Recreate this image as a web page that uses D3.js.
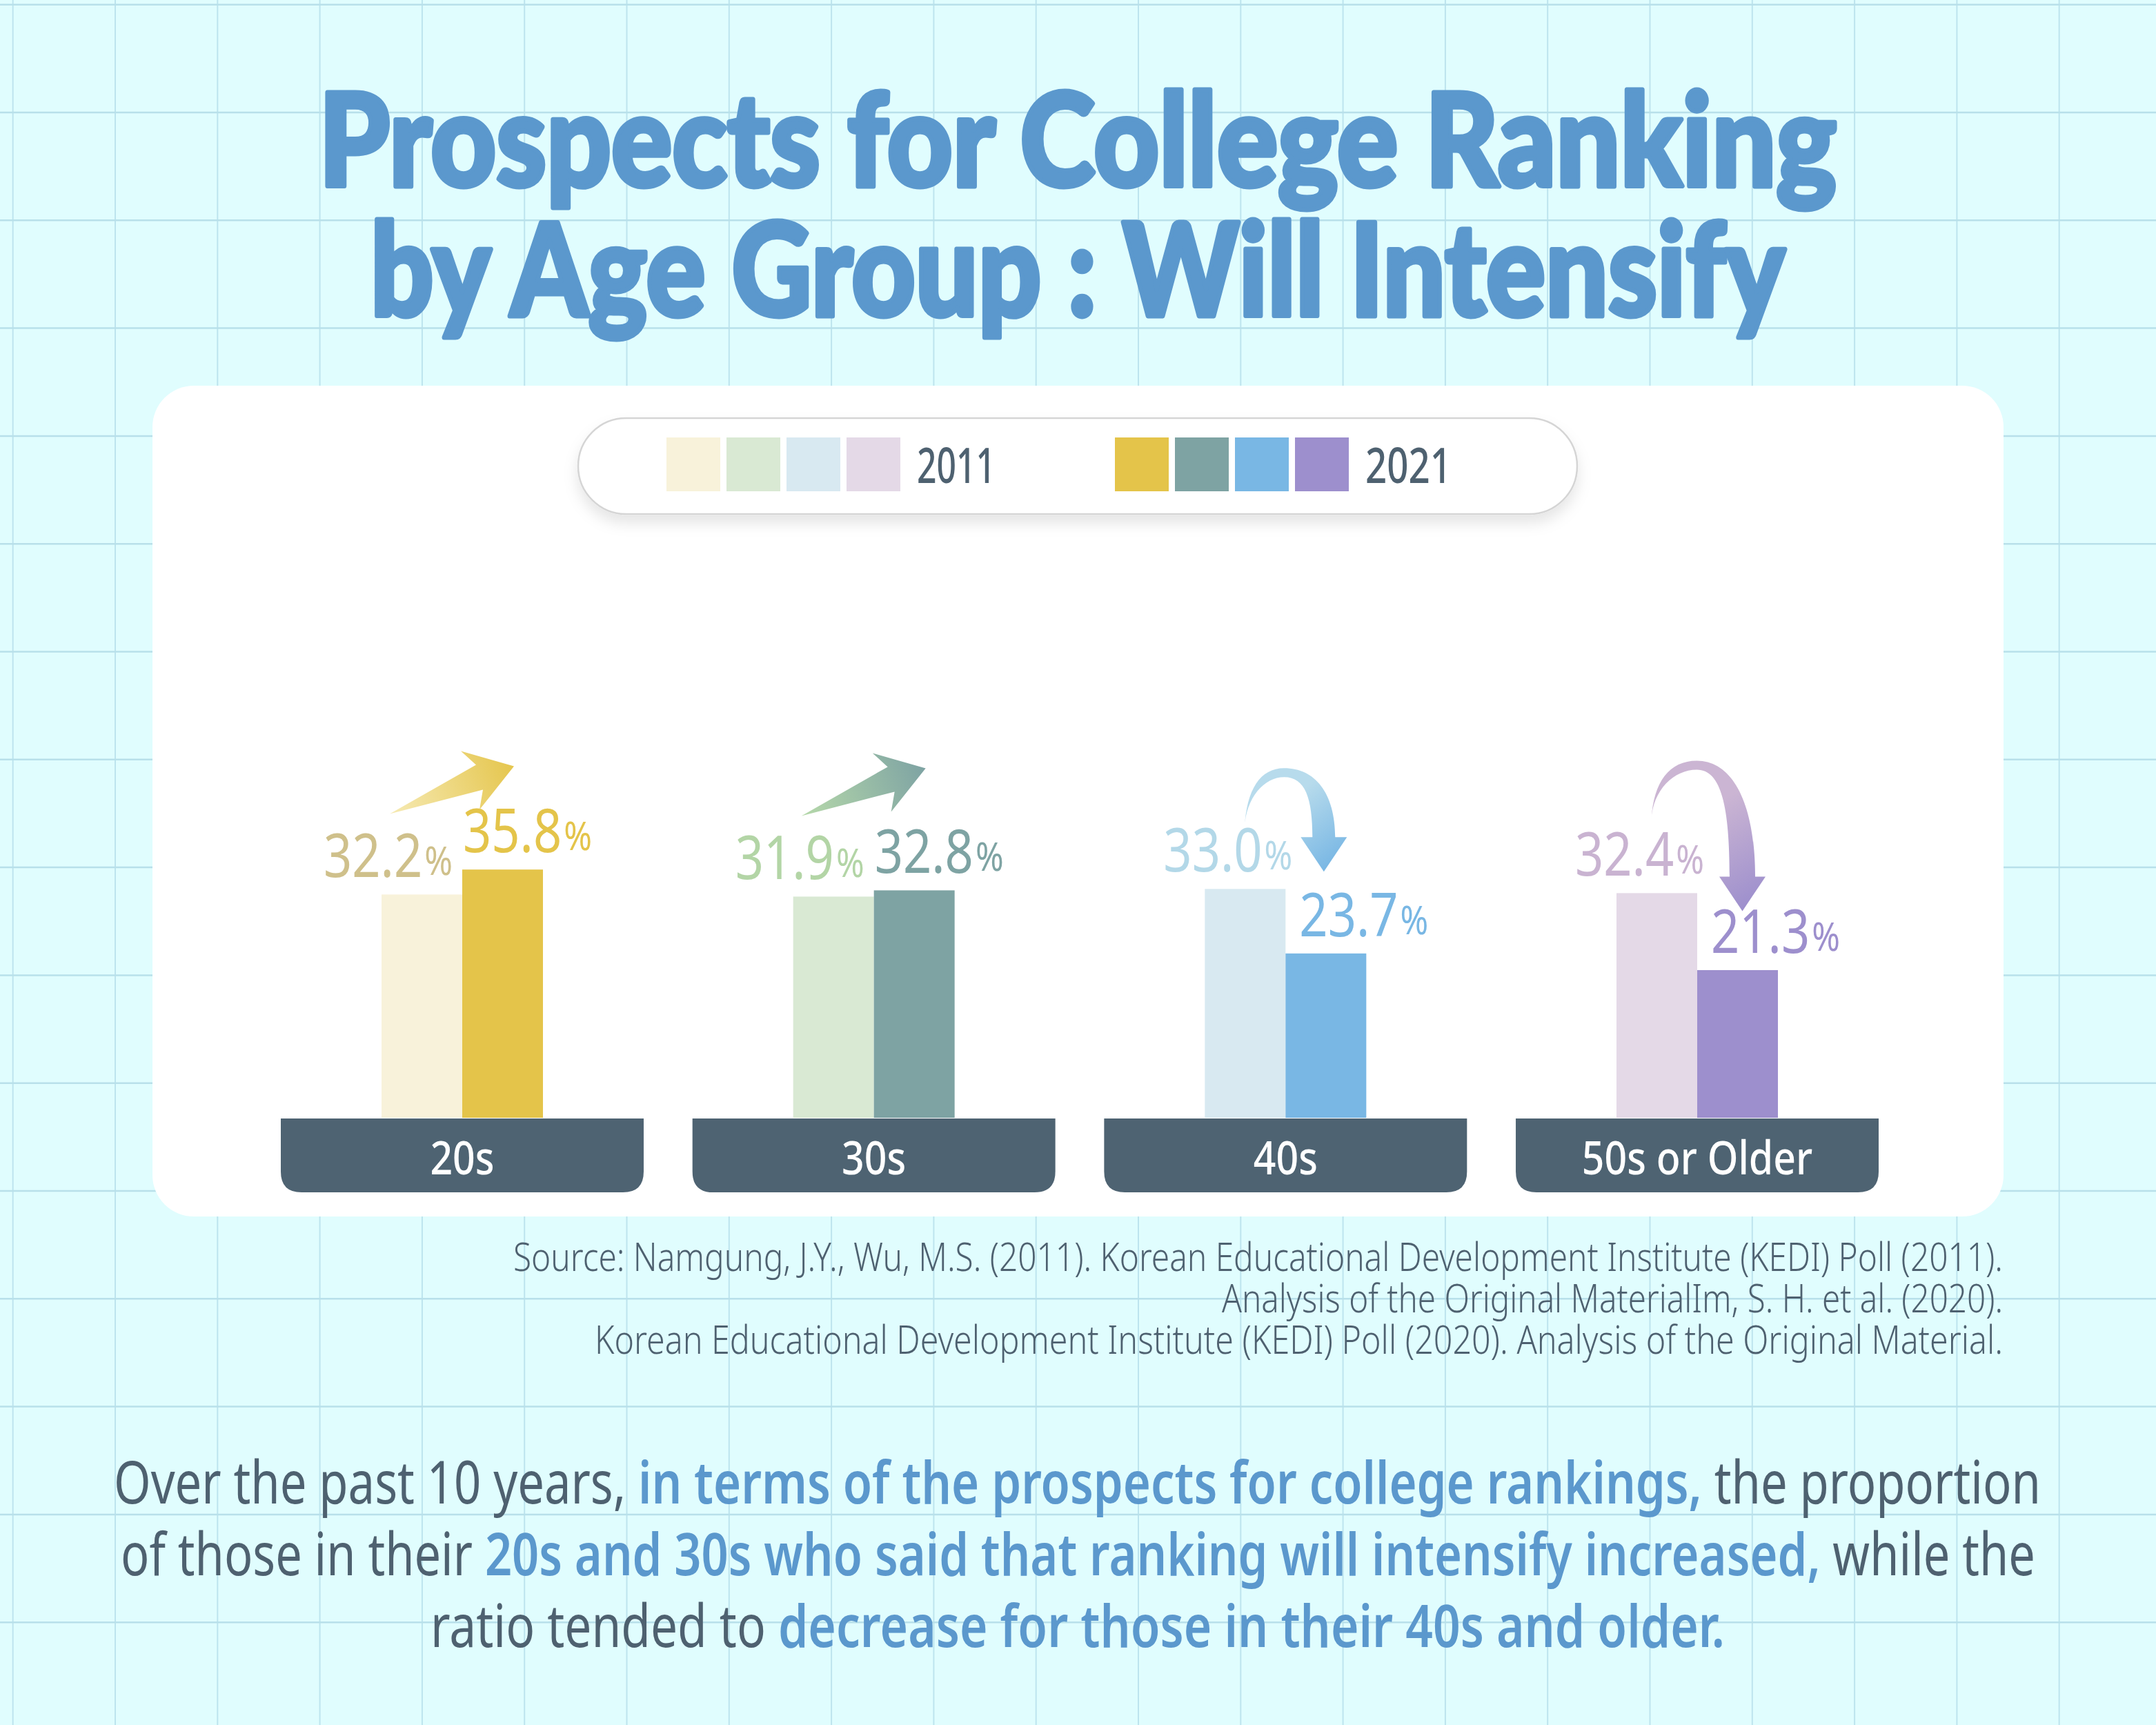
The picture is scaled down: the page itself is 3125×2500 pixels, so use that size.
<!DOCTYPE html>
<html><head><meta charset="utf-8">
<script src="https://cdn.jsdelivr.net/npm/d3@7"></script>
<style>html,body{margin:0;padding:0;background:#e0fdfe;} svg{display:block}</style>
</head><body>
<svg id="c" width="3125" height="2500"></svg>
<script>
// ---------------- DATA ----------------
const categories = ["20s", "30s", "40s", "50s or Older"];
const years = ["2011", "2021"];
const values2011 = [32.2, 31.9, 33.0, 32.4];
const values2021 = [35.8, 32.8, 23.7, 21.3];
const colors2011 = ["#f8f2da", "#d9e9d3", "#d8e9f1", "#e4d9e7"];
const colors2021 = ["#e4c44a", "#7ea3a3", "#79b7e4", "#9d8fcd"];
const labelColors2011 = ["#cfc08b", "#b3d5a6", "#b3d8e8", "#c9b3d1"];
const labelColors2021 = ["#e4c44a", "#7ea3a3", "#79b7e4", "#9d8fcd"];
const titleLines = ["Prospects for College Ranking", "by Age Group : Will Intensify"];
const sourceLines = [
  "Source: Namgung, J.Y., Wu, M.S. (2011). Korean Educational Development Institute (KEDI) Poll (2011).",
  "Analysis of the Original MaterialIm, S. H. et al. (2020).",
  "Korean Educational Development Institute (KEDI) Poll (2020). Analysis of the Original Material."
];
const bodyLines = [
  [["Over the past 10 years,", false], ["in terms of the prospects for college rankings,", true], ["the proportion", false]],
  [["of those in their", false], ["20s and 30s who said that ranking will intensify increased,", true], ["while the", false]],
  [["ratio tended to", false], ["decrease for those in their 40s and older.", true]]
];

// ---------------- SETUP ----------------
const W = 3125, H = 2500;
const FONT = "'Noto Sans', 'Open Sans', Roboto, sans-serif";
const FONT_TITLE = "Lato, 'DejaVu Sans', sans-serif";
const GRAY = "#4e6170", BLUE = "#5b98cd";
const svg = d3.select("#c");
const defs = svg.append("defs");

svg.append("rect").attr("width", W).attr("height", H).attr("fill", "#e0fdfe");
const grid = svg.append("g").attr("stroke", "#bde4ee");
d3.range(-1, 20).forEach(k => {
  const gx = 167 + 148.3 * k;
  grid.append("line").attr("x1", gx).attr("x2", gx).attr("y1", 0).attr("y2", H).attr("stroke-width", 2);
});
d3.range(-1, 15).forEach(k => {
  const gy = 163 + 156.3 * k;
  grid.append("line").attr("x1", 0).attr("x2", W).attr("y1", gy).attr("y2", gy).attr("stroke-width", 2.5).attr("stroke", "#b8e0ea");
});

function fitText(sel, w) { sel.attr("textLength", w).attr("lengthAdjust", "spacingAndGlyphs"); return sel; }

// ---------------- TITLE ----------------
const titleSpec = [{ y: 270, w: 2200 }, { y: 458, w: 2050 }];
titleLines.forEach((t, i) => {
  const el = svg.append("text").attr("x", 1562).attr("y", titleSpec[i].y)
    .attr("text-anchor", "middle").attr("font-family", FONT_TITLE).attr("font-weight", 900)
    .attr("font-size", 186).attr("fill", BLUE).attr("stroke", BLUE).attr("stroke-width", 7)
    .attr("stroke-linejoin", "round").text(t);
  fitText(el, titleSpec[i].w);
});

// ---------------- CARD ----------------
svg.append("rect").attr("x", 221).attr("y", 559).attr("width", 2683).attr("height", 1204)
  .attr("rx", 60).attr("fill", "#ffffff");

// legend pill
const sh = defs.append("filter").attr("id", "sh").attr("x", "-10%").attr("y", "-40%").attr("width", "120%").attr("height", "200%");
sh.append("feDropShadow").attr("dx", 0).attr("dy", 12).attr("stdDeviation", 10)
  .attr("flood-color", "#000").attr("flood-opacity", 0.10);
svg.append("rect").attr("x", 838).attr("y", 606).attr("width", 1448).attr("height", 139)
  .attr("rx", 69.5).attr("fill", "#fff").attr("stroke", "#d5d5d5").attr("stroke-width", 2.5)
  .attr("filter", "url(#sh)");

const legendGroups = [
  { colors: colors2011, label: years[0], x0: 966, tx: 1329, tw: 114 },
  { colors: colors2021, label: years[1], x0: 1616, tx: 1979, tw: 125 }
];
legendGroups.forEach(gp => {
  svg.append("g").selectAll("rect").data(gp.colors).join("rect")
    .attr("x", (d, i) => gp.x0 + i * 87).attr("y", 634).attr("width", 78).attr("height", 78)
    .attr("fill", d => d);
  const t = svg.append("text").attr("x", gp.tx).attr("y", 700).attr("font-family", FONT)
    .attr("font-weight", 500).attr("font-size", 70).attr("fill", GRAY).text(gp.label);
  fitText(t, gp.tw);
});

// ---------------- SCALES ----------------
const x = d3.scaleBand().domain(categories).range([407, 2723]).paddingInner(0.1185).paddingOuter(0);
const xi = d3.scaleBand().domain(years).range([-117, 117]).padding(0);
const y = d3.scaleLinear().domain([0, 40]).range([1620, 1218]);
const cx = c => x(c) + x.bandwidth() / 2;

const data = categories.map((c, i) => ({
  cat: c, i,
  vals: [
    { year: years[0], v: values2011[i], fill: colors2011[i], lab: labelColors2011[i] },
    { year: years[1], v: values2021[i], fill: colors2021[i], lab: labelColors2021[i] }
  ]
}));

// bars
const chart = svg.append("g");
data.forEach(d => {
  chart.append("g").selectAll("rect").data(d.vals).join("rect")
    .attr("x", v => cx(d.cat) + xi(v.year)).attr("width", xi.bandwidth())
    .attr("y", v => y(v.v)).attr("height", v => y(0) - y(v.v))
    .attr("fill", v => v.fill);
});

// category boxes
const boxTop = 1621, boxH = 107, r = 30;
data.forEach(d => {
  const x0 = x(d.cat), x1 = x0 + x.bandwidth(), b = boxTop + boxH;
  chart.append("path")
    .attr("d", `M${x0},${boxTop} H${x1} V${b - r} Q${x1},${b} ${x1 - r},${b} H${x0 + r} Q${x0},${b} ${x0},${b - r} Z`)
    .attr("fill", "#4e6372");
  const t = chart.append("text").attr("x", cx(d.cat)).attr("y", 1702).attr("text-anchor", "middle")
    .attr("font-family", FONT).attr("font-weight", 500).attr("font-size", 68).attr("fill", "#fff").text(d.cat);
  fitText(t, t.node().getComputedTextLength() * 0.84);
});

// value labels
function valueLabel(g, v, color, xPos, yPos, anchor) {
  const num = g.append("text").attr("y", yPos).attr("font-family", FONT).attr("font-size", 87)
    .attr("fill", color).text(v.toFixed(1));
  const pct = g.append("text").attr("y", yPos - 3).attr("font-family", FONT).attr("font-size", 57)
    .attr("fill", color).text("%");
  const nw = num.node().getComputedTextLength() * 0.83;
  const pw = pct.node().getComputedTextLength() * 0.86;
  const gap = 3;
  const x0 = anchor === "start" ? xPos : xPos - (nw + gap + pw);
  fitText(num.attr("x", x0), nw);
  fitText(pct.attr("x", x0 + nw + gap), pw);
}
data.forEach(d => {
  const c = cx(d.cat);
  const dec = d.vals[1].v < d.vals[0].v;
  valueLabel(chart, d.vals[0].v, d.vals[0].lab, c + (dec ? 10 : -14), y(d.vals[0].v) - 25, "end");
  valueLabel(chart, d.vals[1].v, d.vals[1].lab, c + (dec ? 20 : 1), y(d.vals[1].v) - 25, "start");
});

// ---------------- ARROWS (annotations) ----------------
const arrowCfg = {
  "20s": { type: "straight", from: "#f6eab4", to: "#e5c64e" },
  "30s": { type: "straight", from: "#b6d9aa", to: "#7ea3a3" },
  "40s": { type: "curve", from: "#b7dbec", to: "#79b7e4", dsx: -1, dsy: -88, dtop: -175, dex: -3, dtip: -25, sw: 33 },
  "50s or Older": { type: "curve", from: "#cbb5d3", to: "#9d8fcd", dsx: -8, dsy: -106, dtop: -192, dex: 7, dtip: 26, sw: 37 }
};
const straightShape = [[-180, 69], [-55, -2], [-77, -22], [0, 0], [-50, 63], [-45, 34]];

function curvePath(sx, sy, topY, ex, ey, sw) {
  const mx = (sx + ex) / 2, oR = ex + sw / 2, iR = ex - sw / 2, topI = topY + 13;
  return `M${sx},${sy} C${sx + 3},${topY + (sy - topY) * 0.35} ${mx - (mx - sx) * 0.6},${topY} ${mx},${topY} ` +
    `C${mx + (oR - mx) * 0.6},${topY} ${oR},${topY + (ey - topY) * 0.35} ${oR},${ey} ` +
    `L${iR},${ey} C${iR},${topI + (ey - topI) * 0.35} ${mx + (iR - mx) * 0.75},${topI} ${mx},${topI} ` +
    `C${mx - (mx - sx) * 0.5},${topI} ${sx + 2},${topI + (sy - topI) * 0.4} ${sx},${sy} Z`;
}

const arrows = svg.append("g");
data.forEach((d, i) => {
  const cfg = arrowCfg[d.cat];
  const c = cx(d.cat);
  const y11 = y(d.vals[0].v);
  const gid = "ag" + i;
  const grad = defs.append("linearGradient").attr("id", gid).attr("gradientUnits", "userSpaceOnUse");
  if (cfg.type === "straight") {
    const tx = c + 75, ty = y11 - 186;
    const pts = straightShape.map(p => [tx + p[0], ty + p[1]]);
    grad.attr("x1", pts[0][0]).attr("y1", pts[0][1]).attr("x2", tx).attr("y2", ty);
    grad.append("stop").attr("offset", 0).attr("stop-color", cfg.from);
    grad.append("stop").attr("offset", 1).attr("stop-color", cfg.to);
    arrows.append("path").attr("d", "M" + pts.map(p => p.join(",")).join("L") + "Z").attr("fill", `url(#${gid})`);
  } else {
    const sx = c + xi("2011") + xi.bandwidth() / 2 + cfg.dsx;
    const sy = y11 + cfg.dsy;
    const topY = y11 + cfg.dtop;
    const ex = c + xi("2021") + xi.bandwidth() / 2 + cfg.dex;
    const tip = y11 + cfg.dtip;
    const headH = 50, headW = 67;
    const ey = tip - headH;
    grad.attr("x1", sx).attr("y1", topY).attr("x2", ex).attr("y2", tip);
    grad.append("stop").attr("offset", 0).attr("stop-color", cfg.from);
    grad.append("stop").attr("offset", 0.4).attr("stop-color", cfg.from);
    grad.append("stop").attr("offset", 1).attr("stop-color", cfg.to);
    arrows.append("path").attr("d", curvePath(sx, sy, topY, ex, ey + 1, cfg.sw)).attr("fill", `url(#${gid})`);
    arrows.append("path").attr("d", `M${ex - headW / 2},${ey} L${ex + headW / 2},${ey} L${ex},${tip} Z`).attr("fill", `url(#${gid})`);
  }
});

// ---------------- SOURCE ----------------
const srcSpec = [{ y: 1842, w: 2159 }, { y: 1902, w: 1132 }, { y: 1962, w: 2041 }];
sourceLines.forEach((t, i) => {
  const el = svg.append("text").attr("x", 2903).attr("y", srcSpec[i].y).attr("text-anchor", "end")
    .attr("font-family", FONT).attr("font-weight", 300).attr("font-size", 57).attr("fill", GRAY).text(t);
  fitText(el, srcSpec[i].w);
});

// ---------------- BODY PARAGRAPH ----------------
const bodySpec = [{ x: 165, w: 2793, y: 2179 }, { x: 175, w: 2775, y: 2283 }, { x: 624, w: 1876, y: 2387 }];
const body = svg.append("g");
function spaceWidth(size, weight) {
  const t = body.append("text").attr("font-family", FONT).attr("font-size", size).attr("font-weight", weight).text("n n");
  const a = t.node().getComputedTextLength();
  t.text("nn");
  const b = t.node().getComputedTextLength();
  t.remove();
  return a - b;
}
bodyLines.forEach((segs, li) => {
  const spec = bodySpec[li], size = 85;
  const els = segs.map(s => body.append("text").attr("y", spec.y).attr("font-family", FONT)
    .attr("font-size", size).attr("font-weight", s[1] ? 600 : 400).attr("fill", s[1] ? BLUE : GRAY).text(s[0]));
  const ws = els.map(e => e.node().getComputedTextLength());
  const sp = spaceWidth(size, 400);
  const total = d3.sum(ws) + sp * (segs.length - 1);
  const k = spec.w / total;
  let xx = spec.x;
  els.forEach((e, i) => {
    fitText(e.attr("x", xx), ws[i] * k);
    xx += ws[i] * k + sp * k;
  });
});
</script>
</body></html>
